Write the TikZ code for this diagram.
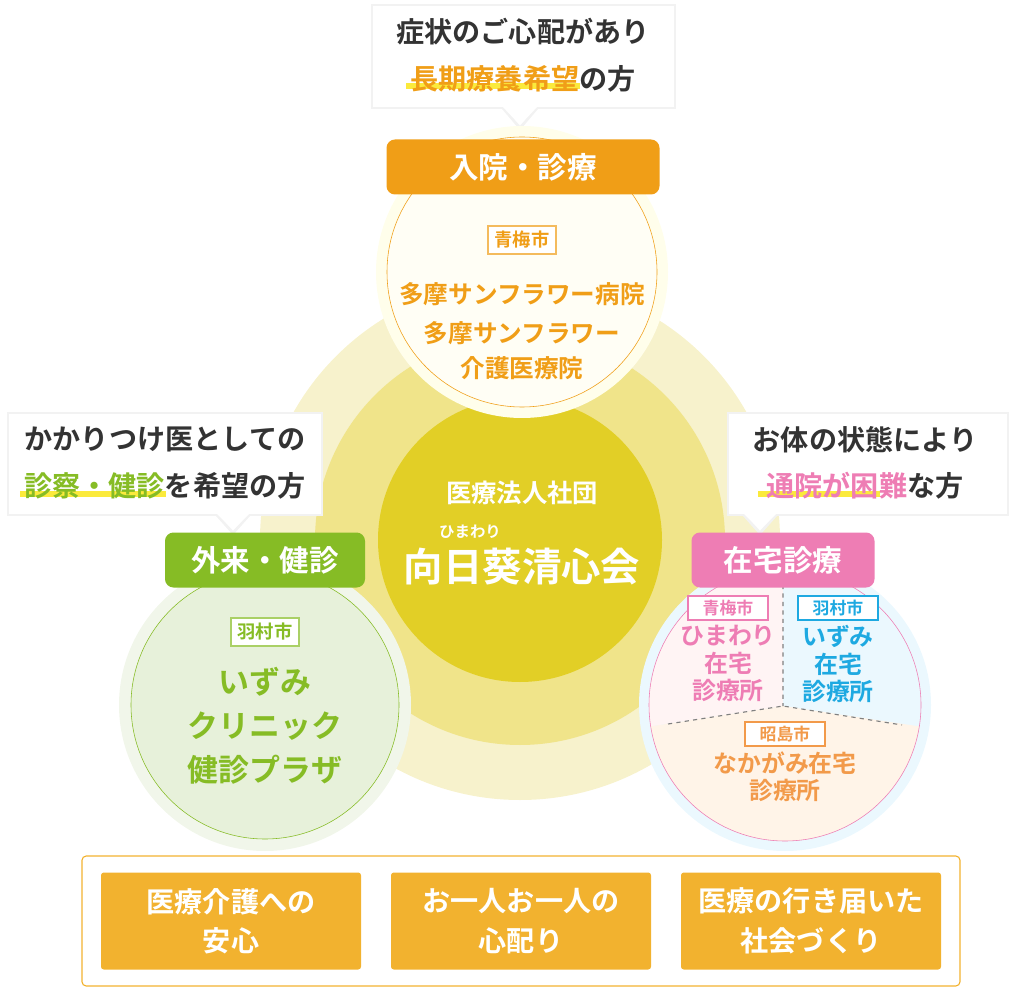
\documentclass[tikz,border=0pt]{standalone}
\usepackage{fontspec}
\setmainfont{Noto Sans CJK JP}[BoldFont={* Bold}]
\usetikzlibrary{positioning,calc}
\definecolor{cOrange}{HTML}{F09E17}
\definecolor{cGreen}{HTML}{86BC25}
\definecolor{cPink}{HTML}{EE7DB4}
\definecolor{cCyan}{HTML}{1EA9E1}
\definecolor{cPeach}{HTML}{F29A4A}
\definecolor{cBox}{HTML}{F2B22F}
\definecolor{cMark}{HTML}{FBEA3C}
\definecolor{ringA}{HTML}{F7F2CC}
\definecolor{ringB}{HTML}{F0E48A}
\definecolor{ringC}{HTML}{E2CF26}
\definecolor{leafA}{HTML}{F1F6EA}
\definecolor{leafB}{HTML}{E7F1DA}
\begin{document}
\begin{tikzpicture}[x=0.025cm, y=-0.025cm, font=\bfseries,
  banner/.style = {rounded corners=6pt, text=white, font=\bfseries\fontsize{21}{23}\selectfont,
                   minimum height=55*0.025cm, inner sep=0pt},
  tag/.style    = {draw, fill=white, thick, font=\bfseries\fontsize{13}{14}\selectfont,
                   minimum width=68*0.025cm, minimum height=28*0.025cm, inner sep=0pt},
  inst/.style   = {align=center, font=\bfseries\fontsize{17.5}{22}\selectfont},
  callout/.style= {fill=white, draw=black!5, line width=2pt},
  ask/.style    = {align=center, text=black!80, font=\bfseries\fontsize{20}{33}\selectfont},
  goal/.style   = {fill=cBox, text=white, align=center, rounded corners=2pt,
                   font=\bfseries\fontsize{20}{28}\selectfont,
                   minimum width=260*0.025cm, minimum height=97*0.025cm, inner sep=0pt},
  marker/.style = {draw=cMark, line width=4pt}
  ]
	\useasboundingbox (0,0) rectangle (1033,990);
	% background rings
	\fill[ringA] (520,540) circle (260);
	\fill[ringB] (520,540) circle (205);
	\fill[ringC] (520,540) circle (142);
	\node[text=white, font=\bfseries\fontsize{18}{20}\selectfont] (corp) at (522,493) {医療法人社団};
	\node[text=white, font=\bfseries\fontsize{28}{30}\selectfont] (kai) at (522,567) {向日葵清心会};
	\node[text=white, font=\bfseries\fontsize{11}{12}\selectfont] (ruby) at (470,532) {ひまわり};

	% callouts
	\coordinate (tipT) at (520,128);
	\coordinate (tipL) at (233,533);
	\coordinate (tipR) at (760,533);
	\filldraw[callout] (372,5) rectangle (675,108);
	\filldraw[callout] (503,108) -- (tipT) -- (537,108);
	\fill[white] (501,105) -- (520,125) -- (539,105) -- cycle;
	\filldraw[callout] (8,413) rectangle (322,515);
	\filldraw[callout] (217,515) -- (tipL) -- (249,515);
	\fill[white] (215,512) -- (233,530) -- (251,512) -- cycle;
	\filldraw[callout] (728,413) rectangle (1008,515);
	\filldraw[callout] (744,515) -- (tipR) -- (776,515);
	\fill[white] (742,512) -- (760,530) -- (778,512) -- cycle;
	\draw[marker] (406,86) -- (580,86);
	\draw[marker] (20,494) -- (166,494);
	\draw[marker] (758,494) -- (880,494);
	\node[ask] (qT) at (523,55) {症状のご心配があり\\\textcolor{cOrange}{長期療養希望}の方};
	\node[ask] (qL) at (165,463) {かかりつけ医としての\\\textcolor{cGreen}{診察・健診}を希望の方};
	\node[ask] (qR) at (865,463) {お体の状態により\\\textcolor{cPink}{通院が困難}な方};

	% top circle
	\fill[yellow!8] (522,272) circle (146);
	\fill[yellow!4] (522,272) circle (135);
	\draw[cOrange] (522,272) circle (135);
	\node[banner, fill=cOrange, minimum width=273*0.025cm] (inpat) at (523,167) {入院・診療};
	\node[tag, draw=cOrange!70, text=cOrange] (tagT) at (522,240) {青梅市};
	\node[inst, text=cOrange] (hosp) at (522,294) {多摩サンフラワー病院};
	\node[inst, text=cOrange, font=\bfseries\fontsize{17.5}{25}\selectfont] (care) at (522,351) {多摩サンフラワー\\介護医療院};

	% left circle
	\fill[leafA] (265,705) circle (146);
	\fill[leafB] (265,705) circle (134);
	\draw[cGreen] (265,705) circle (134);
	\node[banner, fill=cGreen, minimum width=200*0.025cm] (outpat) at (265,560) {外来・健診};
	\node[tag, draw=cGreen!70, text=cGreen] (tagL) at (265,632) {羽村市};
	\node[inst, text=cGreen, font=\bfseries\fontsize{22}{31}\selectfont] (izumi) at (265,704) {いずみ\\クリニック};
	\node[inst, text=cGreen, font=\bfseries\fontsize{22}{24}\selectfont] (plaza) at (265,770) {健診プラザ};

	% right circle
	\coordinate (mid) at (783,706);
	\fill[white!92!cyan] (785,705) circle (146);
	\begin{scope}
	  \clip (785,705) circle (136);
	  \fill[pink!18!white] (mid) -- (640,728) -- (640,560) -- (783,560) -- cycle;
	  \fill[cyan!8!white] (mid) -- (930,728) -- (930,560) -- (783,560) -- cycle;
	  \fill[orange!9!white] (mid) -- (640,728) -- (640,860) -- (930,860) -- (930,728) -- cycle;
	  \draw[gray, dashed, thick] (783,585) -- (mid) (668,724) -- (mid) -- (902,725);
	\end{scope}
	\draw[cPink] (785,705) circle (136);
	\node[banner, fill=cPink, minimum width=183*0.025cm] (home) at (783,560) {在宅診療};
	\node[tag, draw=cPink, text=cPink, font=\bfseries\fontsize{12}{13}\selectfont, minimum width=80*0.025cm, minimum height=24*0.025cm] (tagP) at (728,608) {青梅市};
	\node[tag, draw=cCyan, text=cCyan, font=\bfseries\fontsize{12}{13}\selectfont, minimum width=80*0.025cm, minimum height=24*0.025cm] (tagC) at (838,608) {羽村市};
	\node[tag, draw=cPeach, text=cPeach, font=\bfseries\fontsize{12}{13}\selectfont, minimum width=80*0.025cm, minimum height=24*0.025cm] (tagO) at (785,734) {昭島市};
	\node[inst, text=cPink, below=0pt of tagP, font=\bfseries\fontsize{17}{19.5}\selectfont] (himawari) {ひまわり\\在宅\\診療所};
	\node[inst, text=cCyan, below=0pt of tagC, font=\bfseries\fontsize{17}{19.5}\selectfont] (izumiH) {いずみ\\在宅\\診療所};
	\node[inst, text=cPeach, below=0pt of tagO, font=\bfseries\fontsize{17}{19.5}\selectfont] (nakagami) {なかがみ在宅\\診療所};

	% goals
	\draw[cBox, thick, rounded corners=3pt] (82,856) rectangle (960,986);
	\node[goal] (g1) at (231,921) {医療介護への\\安心};
	\node[goal] (g2) at (521,921) {お一人お一人の\\心配り};
	\node[goal] (g3) at (811,921) {医療の行き届いた\\社会づくり};
\end{tikzpicture}
\end{document}
